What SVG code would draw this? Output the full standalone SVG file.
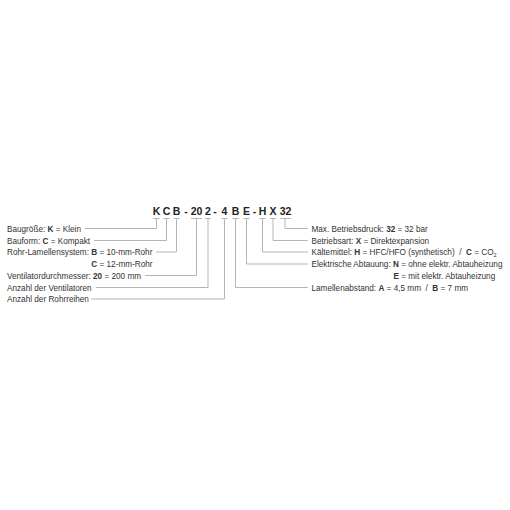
<svg xmlns="http://www.w3.org/2000/svg" width="510" height="510" viewBox="0 0 510 510">
<style>
.t{font-family:"Liberation Sans",Arial,sans-serif;font-size:8.2px;fill:#333;white-space:pre}
.b{font-weight:bold}
.c{font-family:"Liberation Sans",Arial,sans-serif;font-size:10.5px;font-weight:bold;fill:#222;text-anchor:middle}
.ln{fill:none;stroke:#b5b5b5;stroke-width:1}
</style>
<rect width="510" height="510" fill="#fff"/>
<g id="code">
<text class="c" x="156.5" y="214.5">K</text>
<text class="c" x="166.5" y="214.5">C</text>
<text class="c" x="176.5" y="214.5">B</text>
<text class="c" x="186" y="214.5">-</text>
<text class="c" x="196.5" y="214.5">20</text>
<text class="c" x="208" y="214.5">2</text>
<text class="c" x="215" y="214.5">-</text>
<text class="c" x="224.5" y="214.5">4</text>
<text class="c" x="235.5" y="214.5">B</text>
<text class="c" x="246.5" y="214.5">E</text>
<text class="c" x="254.5" y="214.5">-</text>
<text class="c" x="262.5" y="214.5">H</text>
<text class="c" x="273" y="214.5">X</text>
<text class="c" x="285.5" y="214.5">32</text>
</g>
<g id="connectors">
<path class="ln" d="M153.5 218.5H159.5M156.5 218.5V228.5H85"/>
<path class="ln" d="M163.5 218.5H169.5M166.5 218.5V240.5H94"/>
<path class="ln" d="M173.5 218.5H179.5M176.5 218.5V252H156"/>
<path class="ln" d="M191 218.5H202M196.5 218.5V275.5H145"/>
<path class="ln" d="M205 218.5H211M208 218.5V287.5H96"/>
<path class="ln" d="M221.5 218.5H227.5M224.5 218.5V299H91"/>
<path class="ln" d="M232.5 218.5H238.5M235.5 218.5V287.5H308"/>
<path class="ln" d="M243.5 218.5H249.5M246.5 218.5V264H308"/>
<path class="ln" d="M259.5 218.5H265.5M262.5 218.5V252H308"/>
<path class="ln" d="M270 218.5H276M273 218.5V240.5H308"/>
<path class="ln" d="M280 218.5H291M285 218.5V228.5H308"/>
</g>
<g id="baugroesse"><text class="t" x="7" y="231.5">Baugröße: <tspan class="b">K</tspan> = Klein</text></g>
<g id="bauform"><text class="t" x="7" y="243.5">Bauform: <tspan class="b">C</tspan> = Kompakt</text></g>
<g id="rohr-lamellensystem">
<text class="t" x="7" y="255">Rohr-Lamellensystem: <tspan class="b">B</tspan> = 10-mm-Rohr</text>
<text class="t" x="91.3" y="267"><tspan class="b">C</tspan> = 12-mm-Rohr</text>
</g>
<g id="ventilatordurchmesser"><text class="t" x="7" y="278.5">Ventilatordurchmesser: <tspan class="b">20</tspan> = 200 mm</text></g>
<g id="anzahl-ventilatoren"><text class="t" x="7" y="290.5">Anzahl der Ventilatoren</text></g>
<g id="anzahl-rohrreihen"><text class="t" x="7" y="302">Anzahl der Rohrreihen</text></g>
<g id="betriebsdruck"><text class="t" x="311.5" y="231.5">Max. Betriebsdruck: <tspan class="b">32</tspan> = 32 bar</text></g>
<g id="betriebsart"><text class="t" x="311.5" y="243.5">Betriebsart: <tspan class="b">X</tspan> = Direktexpansion</text></g>
<g id="kaeltemittel"><text class="t" x="311.5" y="255">Kältemittel: <tspan class="b">H</tspan> = HFC/HFO (synthetisch)  /  <tspan class="b">C</tspan> = CO<tspan font-size="5.5" dy="2">2</tspan></text></g>
<g id="abtauung">
<text class="t" x="311.5" y="267">Elektrische Abtauung: <tspan class="b">N</tspan> = ohne elektr. Abtauheizung</text>
<text class="t" x="393.5" y="278.5"><tspan class="b">E</tspan> = mit elektr. Abtauheizung</text>
</g>
<g id="lamellenabstand"><text class="t" x="311.5" y="290.5">Lamellenabstand: <tspan class="b">A</tspan> = 4,5 mm  /  <tspan class="b">B</tspan> = 7 mm</text></g>
</svg>
